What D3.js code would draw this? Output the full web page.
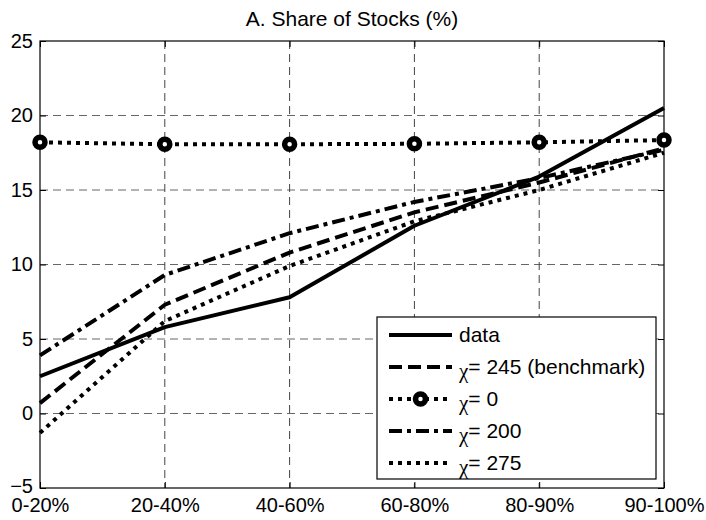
<!DOCTYPE html>
<html><head><meta charset="utf-8">
<script src="https://cdn.jsdelivr.net/npm/d3@7"></script>
<style>body{margin:0;background:#fff;} text{font-family:"Liberation Sans",Arial,sans-serif;}</style>
</head><body>
<svg id="c" width="706" height="520"></svg>
<script>
const categories = ["0-20%","20-40%","40-60%","60-80%","80-90%","90-100%"];
const yTicks = [-5,0,5,10,15,20,25];
const dataSeries = [2.5, 5.8, 7.8, 12.6, 15.9, 20.5];
const chi245 = [0.7, 7.3, 10.8, 13.5, 15.5, 17.8];
const chi0 = [18.2, 18.07, 18.07, 18.1, 18.2, 18.35];
const chi200 = [3.9, 9.3, 12.1, 14.2, 15.8, 17.7];
const chi275 = [-1.3, 6.2, 9.9, 12.9, 15.0, 17.5];
const title = "A. Share of Stocks (%)";

const series = [
  {name:"data", chi:false, values:dataSeries, dash:null, marker:false},
  {name:"= 245 (benchmark)", chi:true, values:chi245, dash:"13,6", marker:false},
  {name:"= 0", chi:true, values:chi0, dash:"4,5", marker:true},
  {name:"= 200", chi:true, values:chi200, dash:"13,5,4,5", marker:false},
  {name:"= 275", chi:true, values:chi275, dash:"4,5", marker:false}
];

const svg = d3.select("#c");
const L=40, R=664, T=41, B=488;
const x = d3.scalePoint().domain(categories).range([L,R]);
const y = d3.scaleLinear().domain([-5,25]).range([B,T]);

// grid
const g = svg.append("g");
g.selectAll(".hg").data(yTicks.slice(1,-1)).join("line")
  .attr("x1",L).attr("x2",R).attr("y1",d=>y(d)).attr("y2",d=>y(d))
  .attr("stroke","#666").attr("stroke-width",1).attr("stroke-dasharray","8,5");
g.selectAll(".vg").data(categories.slice(1,-1)).join("line")
  .attr("y1",T).attr("y2",B).attr("x1",d=>x(d)).attr("x2",d=>x(d))
  .attr("stroke","#444").attr("stroke-width",1).attr("stroke-dasharray","8,5");

// axes
const fs = 20;
const yAxis = d3.axisLeft(y).tickValues(yTicks).tickSize(-6).tickPadding(7).tickFormat(d3.format("d"));
const yAxisR = d3.axisRight(y).tickValues(yTicks).tickSize(-6).tickFormat("");
const xAxis = d3.axisBottom(x).tickSize(-6).tickPadding(10);
const xAxisT = d3.axisTop(x).tickSize(-6).tickFormat("");
function style(sel){ sel.select(".domain").remove(); sel.selectAll("line").attr("stroke","#000"); sel.selectAll("text").attr("font-size",fs).attr("fill","#000").style("font-family","'Liberation Sans',Arial,sans-serif"); }
const ya = svg.append("g").attr("transform",`translate(${L},0)`).call(yAxis).call(style);
ya.selectAll(".tick").filter(d=>d===-5).select("text").attr("dy","0.2em");
svg.append("g").attr("transform",`translate(${R},0)`).call(yAxisR).call(style);
svg.append("g").attr("transform",`translate(0,${B})`).call(xAxis).call(style);
svg.append("g").attr("transform",`translate(0,${T})`).call(xAxisT).call(style);
svg.append("rect").attr("x",L).attr("y",T).attr("width",R-L).attr("height",B-T).attr("fill","none").attr("stroke","#000").attr("stroke-width",1.2);

// lines
const line = d3.line().x((d,i)=>x(categories[i])).y(d=>y(d));
series.forEach(s=>{
  svg.append("path").attr("d",line(s.values)).attr("fill","none").attr("stroke","#000")
    .attr("stroke-width",4).attr("stroke-dasharray",s.dash).attr("stroke-linejoin","round");
  if(s.marker){
    svg.append("g").selectAll("circle").data(s.values).join("circle")
      .attr("cx",(d,i)=>x(categories[i])).attr("cy",d=>y(d)).attr("r",5)
      .attr("fill","#fff").attr("stroke","#000").attr("stroke-width",5.5);
  }
});

// title
svg.append("text").attr("x",(L+R)/2).attr("y",26).attr("text-anchor","middle").attr("font-size",21).text(title);

// legend
const lx=377, ly=317, lw=279, lh=162;
svg.append("rect").attr("x",lx).attr("y",ly).attr("width",lw).attr("height",lh).attr("fill","#fff").attr("stroke","#000").attr("stroke-width",1.2);
series.forEach((s,i)=>{
  const yy = 335 + i*32;
  svg.append("line").attr("x1",389).attr("x2",452).attr("y1",yy).attr("y2",yy)
    .attr("stroke","#000").attr("stroke-width",4).attr("stroke-dasharray",s.dash);
  if(s.marker) svg.append("circle").attr("cx",420.5).attr("cy",yy).attr("r",5).attr("fill","#fff").attr("stroke","#000").attr("stroke-width",5.5);
  const t = svg.append("text").attr("x",459).attr("y",yy+7).attr("font-size",21);
  if(s.chi){ t.append("tspan").style("font-family","'Liberation Serif','Times New Roman',serif").attr("dy",4).text("χ"); t.append("tspan").attr("dy",-4).text(s.name); }
  else t.text(s.name);
});
</script>
</body></html>
